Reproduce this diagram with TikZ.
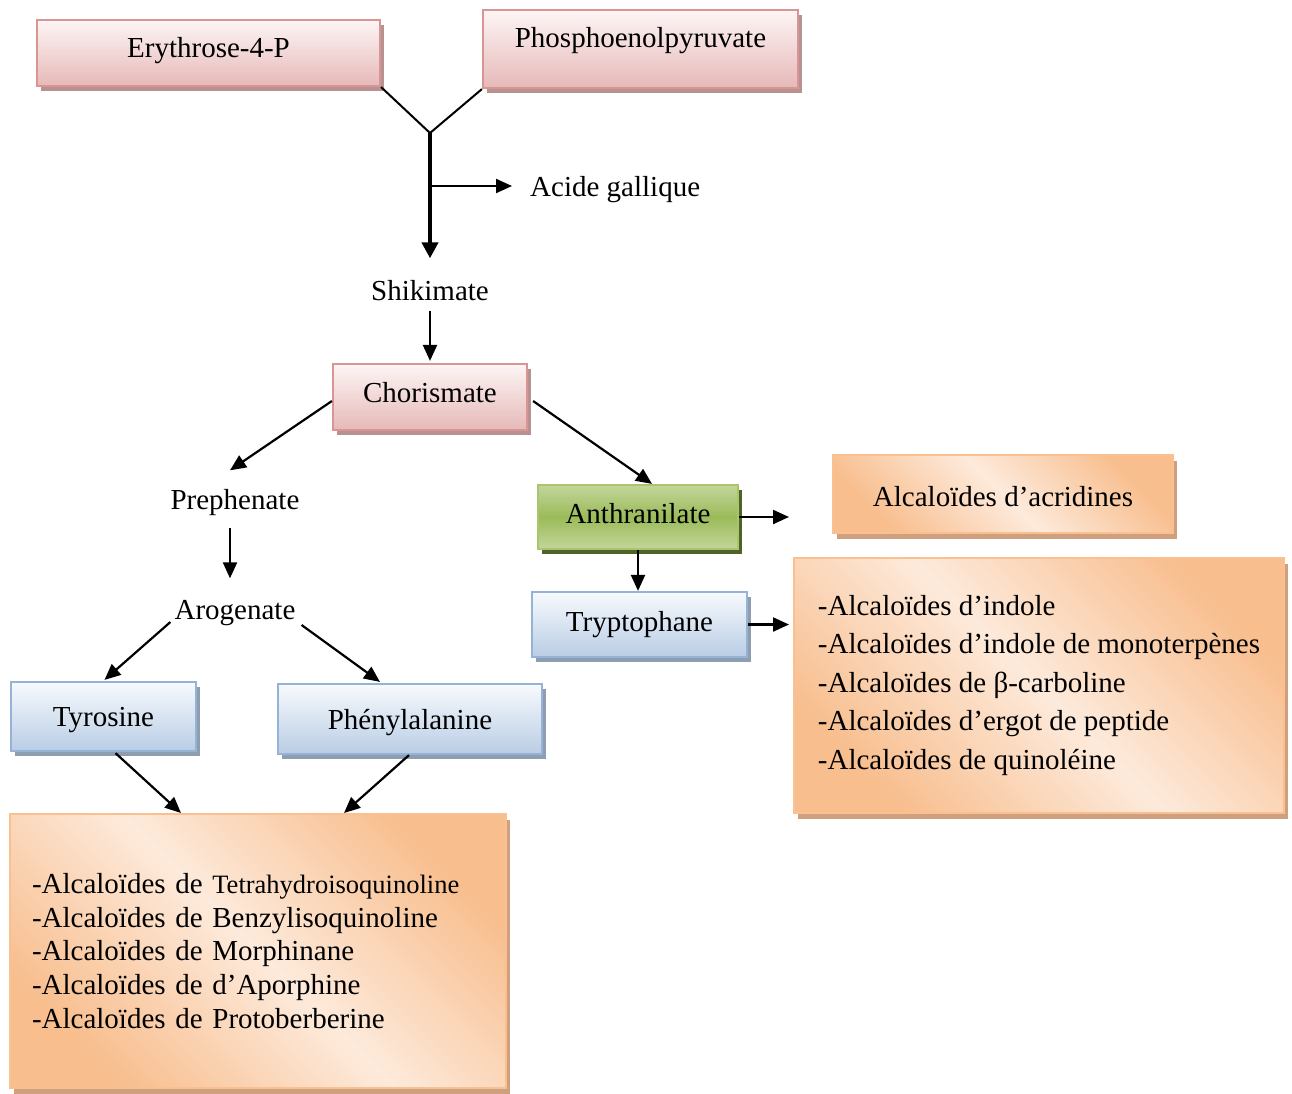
\documentclass[tikz,border=0pt]{standalone}
\usepackage{fontspec}
\setmainfont{Liberation Serif}
\usetikzlibrary{shadows,calc,arrows.meta}

\definecolor{pinkT}{HTML}{FDF5F5}
\definecolor{pinkB}{HTML}{E6B9B8}
\definecolor{pinkE}{HTML}{D99594}
\definecolor{pinkS}{HTML}{B89290}
\definecolor{blueT}{HTML}{F7FAFD}
\definecolor{blueB}{HTML}{B9CDE5}
\definecolor{blueE}{HTML}{95B3D7}
\definecolor{blueS}{HTML}{8E9DB0}
\definecolor{greenL}{HTML}{C3D69B}
\definecolor{greenM}{HTML}{9BBB59}
\definecolor{greenE}{HTML}{A9C56E}
\definecolor{greenS}{HTML}{4F6228}
\definecolor{orgD}{HTML}{F8BE8E}
\definecolor{orgL}{HTML}{FDEADB}
\definecolor{orgE}{HTML}{FAC090}
\definecolor{orgS}{HTML}{CFA07F}

\begin{document}
\begin{tikzpicture}[x=1pt,y=-1pt,
  lbl/.style={font=\fontsize{29}{35}\selectfont, text height=19pt, text depth=6pt, inner sep=4pt},
  boxbase/.style={lbl, rectangle, line width=2.2pt, inner sep=0pt},
  pinkbox/.style={boxbase, draw=pinkE, top color=pinkT, bottom color=pinkB,
    drop shadow={shadow xshift=4pt, shadow yshift=-5pt, fill=pinkS, opacity=1}},
  bluebox/.style={boxbase, draw=blueE, top color=blueT, bottom color=blueB,
    drop shadow={shadow xshift=4pt, shadow yshift=-5pt, fill=blueS, opacity=1}},
  greenbox/.style={boxbase, draw=greenE, top color=greenL, bottom color=greenL, middle color=greenM,
    drop shadow={shadow xshift=4pt, shadow yshift=-5pt, fill=greenS, opacity=1}},
  orangefill/.style={rectangle, line width=2pt, draw=orgE,
    top color=orgD, bottom color=orgD, middle color=orgL, shading angle=-45,
    drop shadow={shadow xshift=4pt, shadow yshift=-6pt, fill=orgS, opacity=1}},
  orangebox/.style={boxbase, orangefill},
  arr/.style={line width=2.2pt, -{Triangle[length=16pt,width=14pt]}},
]
\useasboundingbox (0,0) rectangle (1292,1093);

% precursors
\node[pinkbox, minimum width=343pt, minimum height=66pt] (ery) at (208.5,53) {\raisebox{2pt}{Erythrose-4-P}};
\node[pinkbox, minimum width=315pt, minimum height=78pt] (pep) at (640.5,49) {\raisebox{8pt}{Phosphoenolpyruvate}};
\coordinate (J) at (430,133);
\coordinate (B) at (430,186);

\node[lbl] (shik) at (430,294) {Shikimate};
\node[lbl, anchor=west] (gal) at (526,190) {Acide gallique};
\node[pinkbox, minimum width=194pt, minimum height=66pt] (chor) at (430,397) {\raisebox{1pt}{Chorismate}};

% phenylpropanoid branch
\node[lbl] (pre) at (235,503) {Prephenate};
\node[lbl] (aro) at (235,613) {Arogenate};
\node[bluebox, minimum width=185pt, minimum height=69pt] (tyr) at (103.5,716.5) {\raisebox{-3pt}{Tyrosine}};
\node[bluebox, minimum width=264pt, minimum height=70pt] (phe) at (410,719) {\raisebox{-4pt}{Phénylalanine}};
\node[orangefill, minimum width=496pt, minimum height=274pt, inner xsep=22pt, inner ysep=0pt,
      text width=452pt, align=left, font=\fontsize{29}{33.75}\selectfont] (llist) at (258,951)
  {-Alcaloïdes de {\fontsize{26.5}{33.75}\selectfont Tetrahydroisoquinoline}\\
   -Alcaloïdes de Benzylisoquinoline\\
   -Alcaloïdes de Morphinane\\
   -Alcaloïdes de d’Aporphine\\
   -Alcaloïdes de Protoberberine};

% anthranilate branch
\node[greenbox, minimum width=200pt, minimum height=64pt] (anth) at (638,517) {Anthranilate};
\node[orangebox, minimum width=340pt, minimum height=78pt] (acr) at (1003,494) {\raisebox{-6pt}{Alcaloïdes d’acridines}};
\node[bluebox, minimum width=215pt, minimum height=65pt] (tryp) at (639.5,624.5) {Tryptophane};
\node[orangefill, minimum width=490pt, minimum height=255pt, inner sep=0pt,
      align=left, font=\fontsize{29}{38.5}\selectfont] (rlist) at (1039,685.5)
  {-Alcaloïdes d’indole\\
   -Alcaloïdes d’indole de monoterpènes\\
   -Alcaloïdes de β-carboline\\
   -Alcaloïdes d’ergot de peptide\\
   -Alcaloïdes de quinoléine};

% connectors
\draw[line width=2pt] (ery.south east) -- (J) -- (pep.south west);
\draw[line width=4pt, -{Triangle[length=16pt,width=16pt]}] (J) -- ($(shik.north)+(0,-19)$);
\draw[arr] (B) -- ($(B -| gal.west)+(-14,0)$);
\draw[arr, shorten >=2pt] (shik) -- (chor);
\draw[arr] ($(chor.west)+(0,4)$) -- ($(pre.north)+(-5,-16)$);
\draw[arr] ($(chor.east)+(5,4)$) -- ($(anth.north)+(14,0)$);
\draw[arr] ($(pre.south)+(-5,8)$) -- ($(aro.north)+(-5,-18)$);
\draw[arr] ($(aro.west)+(0,9)$) -- ($(tyr.north)+(1,-1)$);
\draw[arr] ($(aro.east)+(2,12)$) -- ($(phe.north)+(-30,-1)$);
\draw[arr] (anth.east) -- ($(anth.east -| acr.west)+(-43,0)$);
\draw[arr] (anth.south) -- (anth.south |- tryp.north);
\draw[arr] (tryp.east) -- ($(tryp.east -| rlist.west)+(-4,0)$);
\draw[arr] ($(tyr.south)+(12,1)$) -- ($(llist.north)+(-77,0)$);
\draw[arr] ($(phe.south)+(-1,0)$) -- ($(llist.north)+(86,0)$);
\end{tikzpicture}
\end{document}
